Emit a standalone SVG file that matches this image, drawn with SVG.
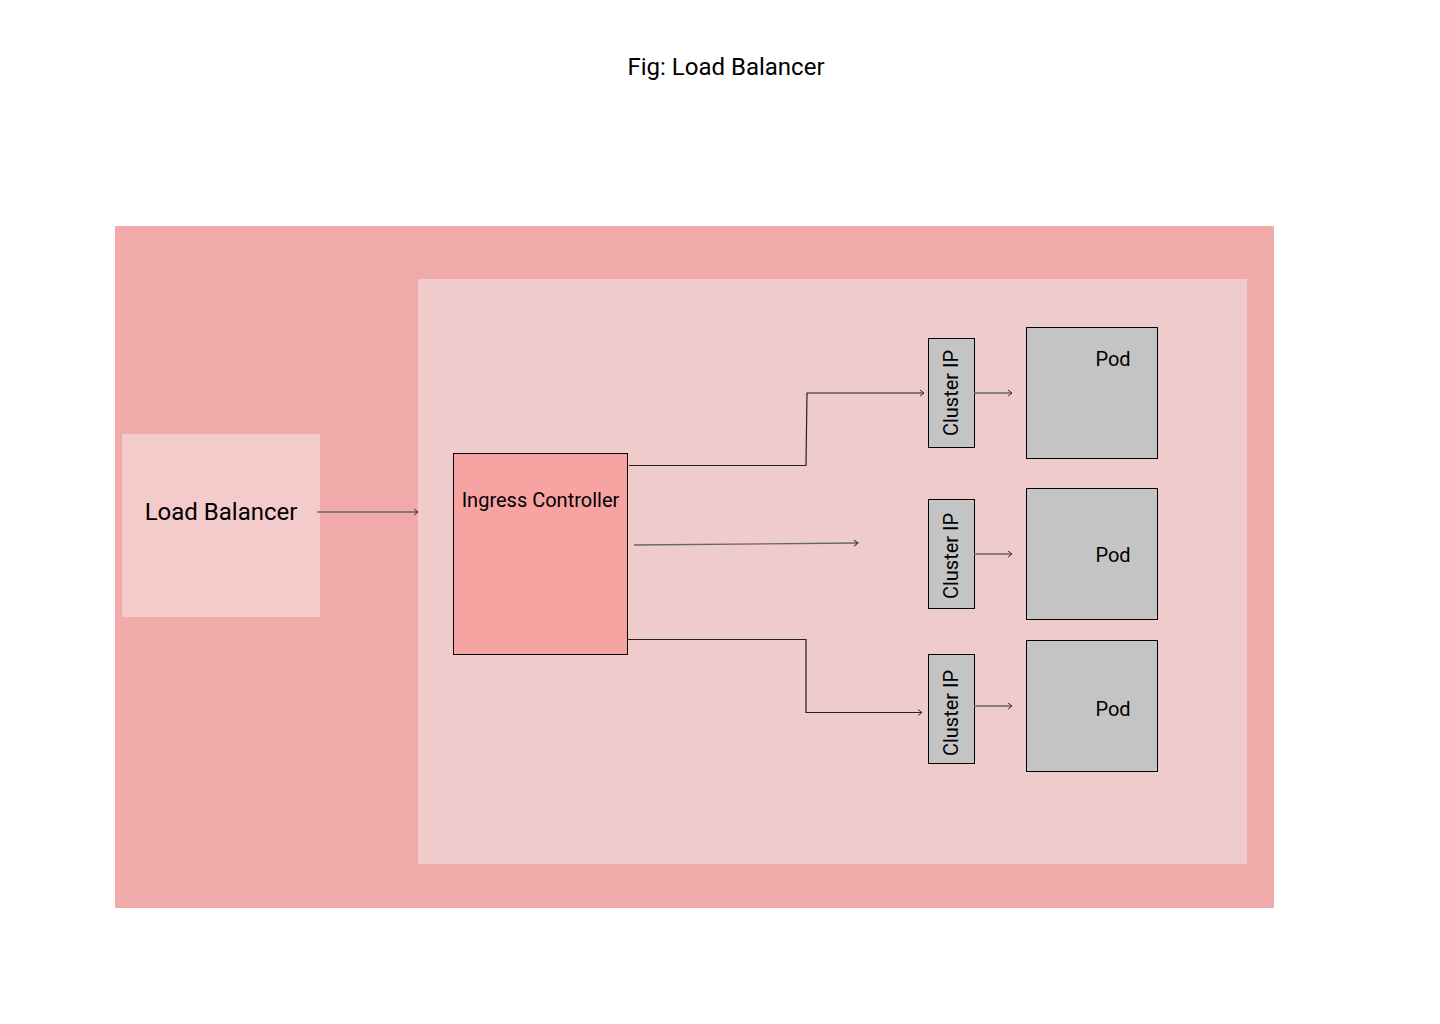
<svg xmlns="http://www.w3.org/2000/svg" width="1440" height="1024" viewBox="0 0 1440 1024">
<style>
text{font-family:Roboto,"Liberation Sans",sans-serif;fill:#000}
.ln{fill:none;stroke:#222;stroke-width:1.2}
.gl{fill:none;stroke:#666;stroke-width:1.4}
.cip{fill:#c4c4c4;stroke:#000;stroke-width:1}
.pod{fill:#c4c4c4;stroke:#000;stroke-width:1}
.t18{font-size:20px}
</style>
<defs>
<marker id="ah" markerWidth="8" markerHeight="8" refX="6" refY="4" orient="auto" markerUnits="userSpaceOnUse">
<path d="M2,1 L6,4 L2,7" fill="none" stroke="#333" stroke-width="1"/>
</marker>
</defs>
<rect width="1440" height="1024" fill="#fff"/>
<text x="726" y="75" font-size="24" text-anchor="middle">Fig: Load Balancer</text>
<g id="outer"><rect x="115" y="226" width="1159" height="682" fill="#f0aaaa"/></g>
<g id="cluster"><rect x="418" y="279" width="829" height="585" fill="#efcbcb"/></g>
<g id="loadbalancer"><rect x="122" y="434" width="198" height="183" fill="#f3cbcb"/><text x="221" y="520" font-size="24" text-anchor="middle">Load Balancer</text></g>
<g id="ingress"><rect x="453.5" y="453.5" width="174" height="201" fill="#f7a3a2" stroke="#000" stroke-width="1"/><text x="540.5" y="507" class="t18" text-anchor="middle">Ingress Controller</text></g>
<g id="cip1"><rect class="cip" x="928.5" y="338.5" width="46" height="109"/><text class="t18" text-anchor="middle" transform="translate(958,393) rotate(-90)">Cluster IP</text></g>
<g id="cip2"><rect class="cip" x="928.5" y="499.5" width="46" height="109"/><text class="t18" text-anchor="middle" transform="translate(958,556) rotate(-90)">Cluster IP</text></g>
<g id="cip3"><rect class="cip" x="928.5" y="654.5" width="46" height="109"/><text class="t18" text-anchor="middle" transform="translate(958,713) rotate(-90)">Cluster IP</text></g>
<g id="pod1"><rect class="pod" x="1026.5" y="327.5" width="131" height="131"/><text x="1113" y="366" class="t18" text-anchor="middle">Pod</text></g>
<g id="pod2"><rect class="pod" x="1026.5" y="488.5" width="131" height="131"/><text x="1113" y="562" class="t18" text-anchor="middle">Pod</text></g>
<g id="pod3"><rect class="pod" x="1026.5" y="640.5" width="131" height="131"/><text x="1113" y="716" class="t18" text-anchor="middle">Pod</text></g>
<g id="connectors">
<path class="gl" d="M317,512 H418" marker-end="url(#ah)"/>
<path class="ln" d="M629,465.5 H806 L807,393 H924" marker-end="url(#ah)"/>
<path class="gl" d="M634,545 L858,543" marker-end="url(#ah)"/>
<path class="ln" d="M627,639.5 H806 L806,712.5 H922" marker-end="url(#ah)"/>
<path class="gl" d="M974,393 H1012" marker-end="url(#ah)"/>
<path class="gl" d="M974,554 H1012" marker-end="url(#ah)"/>
<path class="gl" d="M974,706 H1012" marker-end="url(#ah)"/>
</g>
</svg>
